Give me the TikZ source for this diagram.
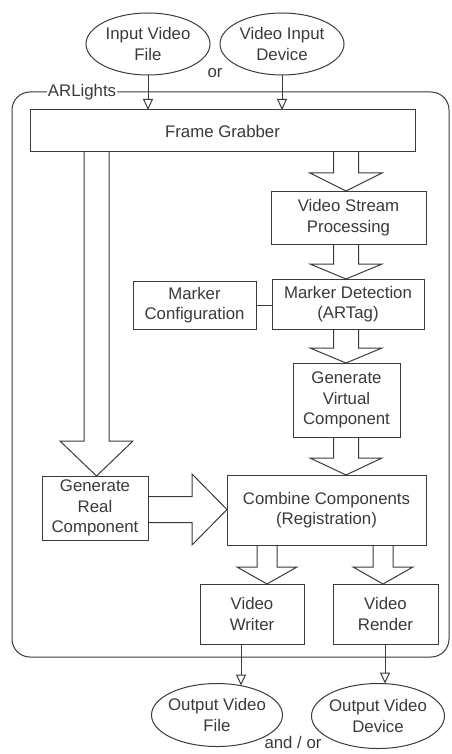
\documentclass[tikz,border=0pt]{standalone}
\usepackage{fontspec}
\setmainfont{Liberation Sans}
\usetikzlibrary{arrows.meta,calc,shapes.geometric}
\definecolor{ln}{HTML}{3A3A3A}
\tikzset{
  txt/.style={text=ln, font=\fontsize{16.8}{20.5}\selectfont},
  box/.style={txt, draw=ln, line width=1pt, fill=white, align=center, inner sep=0pt, outer sep=0pt},
  oval/.style={ellipse, draw=ln, line width=1pt, inner sep=0pt, outer sep=0pt},
  ovaltext/.style={txt, align=center, inner sep=0pt},
  thinarr/.style={draw=ln, line width=1pt, -{Triangle[open,length=11pt,width=10pt]}},
  blk/.style={draw=ln, line width=1pt, line join=miter},
  lbl/.style={txt, inner sep=1pt},
}
% vertical block arrow: #1 x, #2 from, #3 to, #4 shaft half width, #5 head half width, #6 head length
\newcommand\vblk[6]{\draw[blk] let \p1=(#2), \p2=(#3) in
  ({#1pt-#4pt},\y1) -- ({#1pt-#4pt},{\y2+#6pt}) -- ({#1pt-#5pt},{\y2+#6pt}) -- (#1pt,\y2)
  -- ({#1pt+#5pt},{\y2+#6pt}) -- ({#1pt+#4pt},{\y2+#6pt}) -- ({#1pt+#4pt},\y1);}
% horizontal block arrow: #1 y
\newcommand\hblk[6]{\draw[blk] let \p1=(#2), \p2=(#3) in
  (\x1,{-#1pt+#4pt}) -- ({\x2-#6pt},{-#1pt+#4pt}) -- ({\x2-#6pt},{-#1pt+#5pt}) -- (\x2,-#1pt)
  -- ({\x2-#6pt},{-#1pt-#5pt}) -- ({\x2-#6pt},{-#1pt-#4pt}) -- (\x1,{-#1pt-#4pt});}
\begin{document}
\begin{tikzpicture}[x=1pt,y=-1pt]
\useasboundingbox (0,0) rectangle (451,754);
% container
\node[draw=ln, line width=1pt, rounded corners=18pt, minimum width=437pt, minimum height=565pt, inner sep=0pt, outer sep=0pt] (arl) at (230.5,374.5) {};
\node[lbl, fill=white] (arlbl) at (82,92) {ARLights};
% inputs
\node[oval, minimum width=124pt, minimum height=62pt, label={[ovaltext]center:Input Video\\File}] (ivf) at (148,44) {};
\node[oval, minimum width=124pt, minimum height=62pt, label={[ovaltext]center:Video Input\\Device}] (vid) at (282,44) {};
\node[lbl] (or1) at (215,73) {or};
% boxes
\node[box, minimum width=385pt, minimum height=42pt] (fg) at (222.5,131) {Frame Grabber};
\node[box, minimum width=155pt, minimum height=53pt] (vsp) at (348.5,217.5) {Video Stream\\Processing};
\node[box, minimum width=152pt, minimum height=50pt] (md) at (348,304) {Marker Detection\\(ARTag)};
\node[box, minimum width=123pt, minimum height=48pt] (mc) at (194.5,305) {Marker\\Configuration};
\node[box, minimum width=107pt, minimum height=74pt] (gvc) at (346.5,400) {Generate\\Virtual\\Component};
\node[box, minimum width=199pt, minimum height=70pt] (cc) at (326.5,510) {Combine Components\\(Registration)};
\node[box, minimum width=106pt, minimum height=64pt] (grc) at (95,508) {Generate\\Real\\Component};
\node[box, minimum width=104pt, minimum height=60pt] (vw) at (252,614) {Video\\Writer};
\node[box, minimum width=105pt, minimum height=60pt] (vr) at (385.5,614) {Video\\Render};
% outputs
\node[oval, minimum width=131pt, minimum height=63pt, label={[ovaltext]center:Output Video\\File}] (ovf) at (217,715) {};
\node[oval, minimum width=133pt, minimum height=65pt, label={[ovaltext]center:Output Video\\Device}] (ovd) at (378,716) {};
\node[lbl] (andor) at (293,742) {and / or};
% thin arrows
\draw[thinarr] (ivf.south) -- (ivf.south |- fg.north);
\draw[thinarr] (vid.south) -- (vid.south |- fg.north);
\coordinate (vwo) at ([xshift=-11pt]vw.south);
\coordinate (vro) at ([xshift=-0.5pt]vr.south);
\draw[thinarr] (vwo) -- ([yshift=-2pt]vwo |- ovf.north);
\draw[thinarr] (vro) -- (vro |- ovd.north);
% marker config link
\draw[blk] (mc.east) -- (mc.east -| md.west);
% block arrows
\vblk{346}{fg.south}{vsp.north}{12.5}{36}{18}
\vblk{346}{vsp.south}{md.north}{12.5}{36}{15}
\vblk{346}{md.south}{gvc.north}{12.5}{36}{15}
\vblk{346}{gvc.south}{cc.north}{12.5}{36}{17}
\vblk{96.5}{fg.south}{grc.north}{12.5}{36.5}{35}
\hblk{509.5}{grc.east}{cc.west}{13}{35.5}{35}
\vblk{267}{cc.south}{vw.north}{10}{30}{17}
\vblk{383}{cc.south}{vr.north}{10}{30}{17}
\end{tikzpicture}
\end{document}
